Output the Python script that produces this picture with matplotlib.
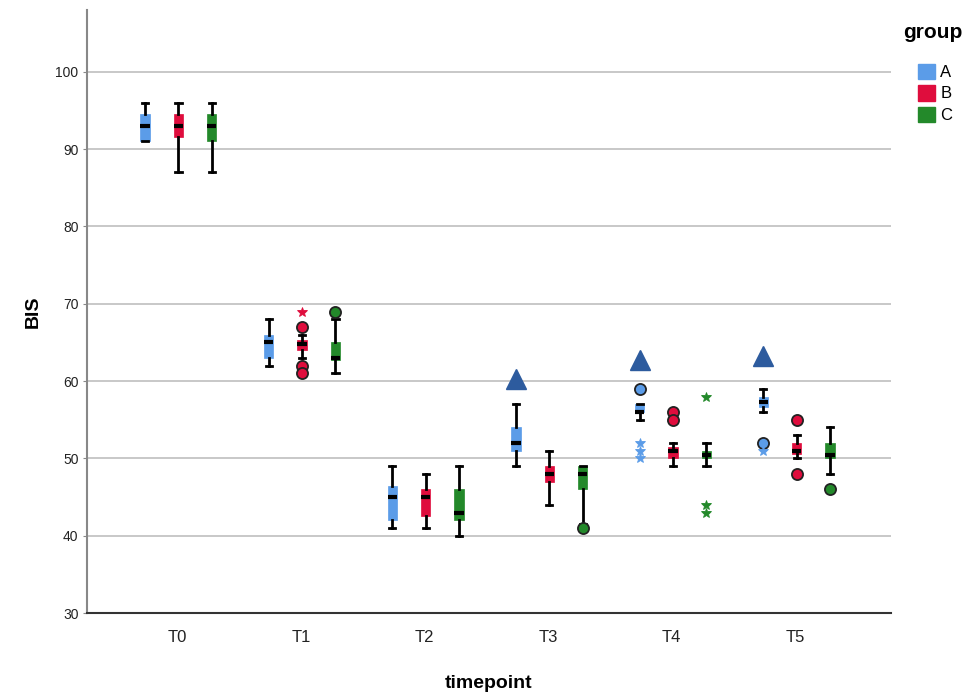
import matplotlib.pyplot as plt
from matplotlib.patches import Patch

plt.rcParams['font.family'] = ['Liberation Sans', 'DejaVu Sans']

timepoints = ['T0', 'T1', 'T2', 'T3', 'T4', 'T5']
groups = ['A', 'B', 'C']
colors = {'A': '#5B9CE8', 'B': '#DF0D3D', 'C': '#23892A'}

# box stats per group, one value per timepoint
whislo = {'A': [91, 62, 41, 49, 55, 56],
          'B': [87, 63, 41, 44, 49, 50],
          'C': [87, 61, 40, 41.5, 49, 48]}
q1 = {'A': [91, 63, 42, 51, 56, 56.6],
      'B': [91.6, 64, 42.5, 47, 50, 50.6],
      'C': [91, 62.7, 42, 46, 50, 50]}
med = {'A': [93, 65, 45, 52, 56, 57.3],
       'B': [93, 64.8, 45, 48, 51, 51],
       'C': [93, 63, 43, 48, 50.5, 50.5]}
q3 = {'A': [94.6, 66, 46.4, 54, 57, 58],
      'B': [94.6, 65.3, 46, 49, 51.5, 52],
      'C': [94.6, 65, 46, 49, 51, 52]}
whishi = {'A': [96, 68, 49, 57, 57, 59],
          'B': [96, 66, 48, 51, 52, 53],
          'C': [96, 68, 49, 49, 52, 54]}

# outliers: (timepoint index, value)
circles = {'A': [(4, 59), (5, 52)],
           'B': [(1, 67), (1, 62), (1, 61), (4, 56), (4, 55), (5, 55), (5, 48)],
           'C': [(1, 69), (3, 41), (5, 46)]}
stars = {'A': [(4, 52), (4, 51), (4, 50), (5, 51)],
         'B': [(1, 69)],
         'C': [(4, 58), (4, 44), (4, 43)]}
# significance triangles above group A
tri_idx = [3, 4, 5]
tri_val = [60.3, 62.7, 63.2]

fig = plt.figure(figsize=(9.66, 6.93), dpi=100)
ax = fig.add_axes([0.090, 0.1154, 0.832, 0.8702])

offsets = {'A': -0.26, 'B': 0.01, 'C': 0.28}
for g in groups:
    stats = []
    for i in range(len(timepoints)):
        stats.append({'whislo': whislo[g][i], 'q1': q1[g][i], 'med': med[g][i],
                      'q3': q3[g][i], 'whishi': whishi[g][i], 'fliers': []})
    pos = [i + offsets[g] for i in range(len(timepoints))]
    ax.bxp(stats, positions=pos, widths=0.075, patch_artist=True,
           showfliers=False, manage_ticks=False,
           boxprops=dict(facecolor=colors[g], edgecolor=colors[g], linewidth=0.5),
           medianprops=dict(color='black', linewidth=3, solid_capstyle='butt'),
           whiskerprops=dict(color='black', linewidth=2),
           capprops=dict(color='black', linewidth=2),
           capwidths=0.05)
    if circles[g]:
        ax.plot([i + offsets[g] for i, v in circles[g]], [v for i, v in circles[g]],
                'o', ms=8, mfc=colors[g], mec='#222222', mew=1.3, zorder=4)
    if stars[g]:
        ax.plot([i + offsets[g] for i, v in stars[g]], [v for i, v in stars[g]],
                '*', ms=7, color=colors[g], mec=colors[g], mew=0.6, zorder=4)

ax.plot([i + offsets['A'] for i in tri_idx], tri_val, '^', ms=15,
        color='#2D5B9E', zorder=4)

ax.set_xlim(-0.73, 5.77)
ax.set_ylim(30, 108)
ax.set_yticks(range(30, 101, 10))
ax.set_xticks(range(len(timepoints)))
ax.set_xticklabels(timepoints, fontsize=12)
ax.tick_params(axis='x', length=0, pad=12, colors='#222222')
ax.tick_params(axis='y', labelsize=10, colors='#888888', labelcolor='#222222',
               length=3, pad=3)
for y in range(40, 101, 10):
    ax.axhline(y, color='#C8C8C8', lw=1.4, zorder=0)
for s in ['top', 'right']:
    ax.spines[s].set_visible(False)
ax.spines['left'].set_color('#888888')
ax.spines['left'].set_linewidth(1.5)
ax.spines['bottom'].set_color('#333333')
ax.spines['bottom'].set_linewidth(1.5)

ax.set_ylabel('BIS', fontsize=14, fontweight='bold', labelpad=10)
ax.set_xlabel('timepoint', fontsize=14, fontweight='bold', labelpad=22)

fig.text(903 / 966, 1 - 33 / 693, 'group', fontsize=15, fontweight='bold',
         ha='left', va='center')
handles = [Patch(facecolor=colors[g], edgecolor=colors[g]) for g in groups]
fig.legend(handles, groups, loc='upper left', bbox_to_anchor=(906 / 966, 1 - 52 / 693),
           frameon=False, fontsize=12, handlelength=1.05, handleheight=1.05,
           handletextpad=0.3, labelspacing=0.3, borderpad=0.2)

fig.savefig('out.png', dpi=100)
